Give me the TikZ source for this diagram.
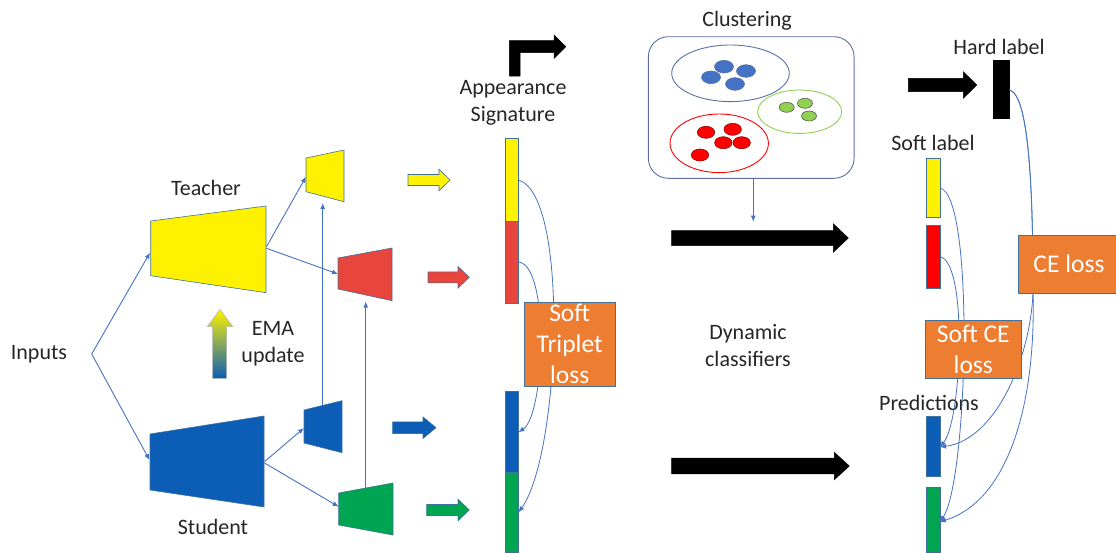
\documentclass[tikz,border=0pt]{standalone}
\usepackage{fontspec}
\setmainfont{Carlito}
\usetikzlibrary{arrows.meta}

\definecolor{tyel}{HTML}{FFF200}
\definecolor{sred}{HTML}{E8453C}
\definecolor{pred}{HTML}{FF0000}
\definecolor{tblu}{HTML}{0B5DB5}
\definecolor{tgrn}{HTML}{00A551}
\definecolor{torg}{HTML}{ED7D31}
\definecolor{link}{HTML}{4472C4}
\definecolor{edge}{HTML}{41719C}
\definecolor{ink}{HTML}{262626}
\definecolor{cgrn}{HTML}{92D050}
\definecolor{cbox}{HTML}{5B6FA6}

% block arrow: style, x start, x tip, y, shaft half width, head half width, head start
\newcommand\blockarr[7]{%
  \draw[#1] (#2,{#4-#5}) -- (#7,{#4-#5}) -- (#7,{#4-#6}) -- (#3,#4)
    -- (#7,{#4+#6}) -- (#7,{#4+#5}) -- (#2,{#4+#5}) -- cycle;}

\tikzset{
  lbl/.style={text=ink, font=\fontsize{22}{27}\selectfont, align=center, inner sep=0pt},
  shp/.style={draw=edge, line width=0.6pt},
  bar/.style={shp, inner sep=0pt, outer sep=0pt},
  lossbox/.style={draw=edge, line width=0.8pt, fill=torg, inner sep=0pt, outer sep=0pt,
    text=white, font=\fontsize{25.5}{31}\selectfont, align=center},
  conn/.style={draw=link, line width=0.9pt, -{Latex[length=6pt,width=5pt]}},
  curve/.style={draw=link, line width=0.8pt, -{Latex[length=6pt,width=5pt]}},
  dot/.style={line width=0.6pt},
}

\begin{document}
\begin{tikzpicture}[x=1pt,y=-1pt]
\useasboundingbox (0,0) rectangle (1116,552);

% ---------- labels ----------
\node[lbl] (inputs) at (39,354) {Inputs};
\node[lbl] (teacherlbl) at (206,188) {Teacher};
\node[lbl] (studentlbl) at (213,527) {Student};
\node[lbl] (ema) at (273,344) {EMA\\update};
\node[lbl] (applbl) at (513,103) {Appearance\\Signature};
\node[lbl] (clulbl) at (747,21) {Clustering};
\node[lbl] (hardlbl) at (999,47) {Hard label};
\node[lbl] (softlbl) at (933,143) {Soft label};
\node[lbl] (predlbl) at (929,403) {Predictions};
\node[lbl] (dynlbl) at (748,346) {Dynamic\\classifiers};

% ---------- encoders and heads ----------
\draw[shp, fill=tyel] (150.7,221) -- (266,206) -- (266,292.7) -- (150.7,275.7) -- cycle;
\draw[shp, fill=tblu] (150,434) -- (264,416) -- (264,507) -- (150,490) -- cycle;
\draw[shp, fill=tyel] (306,158) -- (344,150) -- (344,201.7) -- (306,191.7) -- cycle;
\draw[shp, fill=sred] (338,258) -- (392,248) -- (392,300.7) -- (338,289) -- cycle;
\draw[shp, fill=tblu] (304,410) -- (342,400.7) -- (342,452.7) -- (304,443) -- cycle;
\draw[shp, fill=tgrn] (338.7,493) -- (393,483) -- (393,535) -- (338.7,525) -- cycle;

\coordinate (split) at (91.7,354);
\coordinate (tin) at (150,252.7);
\coordinate (sin) at (149.5,460);
\coordinate (tout1) at (266.5,246.7);
\coordinate (tout2) at (266.5,248.3);
\coordinate (sout1) at (264.5,461.7);
\coordinate (sout2) at (264.5,463);
\coordinate (yin) at (306,176.7);
\coordinate (rin) at (338,274);
\coordinate (bin) at (304,428);
\coordinate (gin) at (338.7,506.7);
\coordinate (btop) at (322.7,405);
\coordinate (ybot) at (322.7,203);
\coordinate (gtop) at (365.7,488);
\coordinate (rbot) at (365.7,301.5);

\draw[conn] (split) -- (tin);
\draw[conn] (split) -- (sin);
\draw[conn] (tout1) -- (yin);
\draw[conn] (tout2) -- (rin);
\draw[conn] (sout1) -- (bin);
\draw[conn] (sout2) -- (gin);
\draw[conn] (btop) -- (ybot);
\draw[conn] (gtop) -- (rbot);

% EMA update arrow
\shade[top color=tyel, bottom color=tblu, draw=gray!60, line width=0.5pt]
  (212.7,378.3) -- (212.7,326.7) -- (207.3,326.7) -- (220,309.3) -- (232.7,326.7)
  -- (226.7,326.7) -- (226.7,378.3) -- cycle;

% ---------- feature arrows ----------
\blockarr{shp, fill=tyel}{408}{450}{180}{5.5}{10.8}{439}
\blockarr{shp, fill=sred}{428}{469.3}{277.3}{5.5}{10.8}{458}
\blockarr{shp, fill=tblu}{392.7}{436}{427.7}{5.8}{10.8}{423}
\blockarr{shp, fill=tgrn}{426.7}{469.3}{510}{5.5}{10.8}{458}

% ---------- appearance signature ----------
\node[bar, fill=tyel, minimum width=13.5pt, minimum height=83.4pt] (sy) at (511.7,180) {};
\node[bar, fill=sred, minimum width=13.5pt, minimum height=81.6pt] (sr) at (511.7,262.5) {};
\node[bar, fill=tblu, minimum width=13.5pt, minimum height=81pt] (sb) at (511.7,432.2) {};
\node[bar, fill=tgrn, minimum width=13.5pt, minimum height=79.3pt] (sg) at (511.7,512.35) {};

% bent arrow above the signature
\draw[fill=black, draw=black, line width=0.5pt]
  (509.3,76) -- (509.3,40.7) -- (554,40.7) -- (554,35) -- (565.7,46.7) -- (554,58.4)
  -- (554,52.7) -- (520,52.7) -- (520,76) -- cycle;

\draw[curve] (sy.east) .. controls (570,195) and (560,455) .. (sg.east);
\draw[curve] ([yshift=0.5pt]sr.east) .. controls (550,265) and (545,415) .. (sb.east);

\node[lossbox, minimum width=91.3pt, minimum height=84pt] (triplet) at (569.7,344) {Soft\\Triplet\\loss};

% ---------- clustering ----------
\node[draw=cbox, line width=0.9pt, rounded corners=20pt, minimum width=205.7pt,
  minimum height=141.6pt, inner sep=0pt] (cluster) at (751.2,107.5) {};
\draw[draw=cbox, line width=0.9pt] (730.5,73.3) ellipse [x radius=58.8pt, y radius=28.3pt];
\draw[draw=cgrn, line width=0.9pt] (799.7,111.7) ellipse [x radius=42pt, y radius=21.7pt];
\draw[draw=pred, line width=0.9pt] (719.2,143.3) ellipse [x radius=49.2pt, y radius=29.3pt];
\foreach \p in {(711,77.3),(724,66.7),(746,71),(735,84)}
  \filldraw[dot, fill=link, draw=cbox] \p ellipse [x radius=9.5pt, y radius=6.3pt];
\foreach \p in {(786.7,107.3),(805,103.3),(809,116)}
  \filldraw[dot, fill=cgrn, draw=gray!70!black] \p ellipse [x radius=7.5pt, y radius=5pt];
\foreach \p in {(706,132.3),(732.7,129.3),(723.3,142.7),(741.7,142.7),(700,155)}
  \filldraw[dot, fill=pred, draw=red!60!black] \p ellipse [x radius=8.7pt, y radius=6pt];

\coordinate (cludown) at (753.3,221.7);
\draw[conn] (cluster.south -| cludown) -- (cludown);

% ---------- classifier arrows ----------
\blockarr{draw=black, line width=0.5pt, fill=black}{671.7}{848.3}{238}{7.5}{14.2}{833.3}
\blockarr{draw=black, line width=0.5pt, fill=black}{671.7}{849.3}{466}{7.8}{13.7}{834.3}
\blockarr{draw=black, line width=0.5pt, fill=black}{908.3}{976.7}{85}{6.7}{13.3}{963.3}

% ---------- labels and predictions ----------
\node[bar, draw=black, fill=black, minimum width=15.7pt, minimum height=58.3pt] (hard) at (1001.2,89.2) {};
\node[bar, fill=tyel, minimum width=13.3pt, minimum height=59.4pt] (softy) at (933.3,188) {};
\node[bar, fill=pred, minimum width=13.3pt, minimum height=63.3pt] (softr) at (933.3,256.7) {};
\node[bar, fill=tblu, minimum width=14pt, minimum height=60pt] (predb) at (933,446) {};
\node[bar, fill=tgrn, minimum width=14pt, minimum height=64.3pt] (predg) at (933,519.85) {};

\draw[curve] (softy.east) .. controls (975,195) and (968,480) .. ([yshift=-2pt]predg.east);
\draw[curve] (softr.east) .. controls (968,262) and (962,420) .. ([yshift=-1pt]predb.east);
\coordinate (hardout) at (1009.5,90);
\coordinate (cemid) at (1033,293);
\draw[curve] (hardout) .. controls (1030,95) and (1033,200) .. (cemid)
  .. controls (1030,360) and (995,440) .. ([yshift=-1pt]predb.east);
\draw[curve] (hardout) .. controls (1030,95) and (1033,200) .. (cemid)
  .. controls (1036,400) and (1010,500) .. ([yshift=-2pt]predg.east);

\node[lossbox, minimum width=99.7pt, minimum height=58.3pt, anchor=west] (ce) at (1018.3,264.2) {};
\node[text=white, font=\fontsize{25.5}{31}\selectfont, inner sep=0pt] (celbl) at (1069,264.2) {CE loss};
\node[lossbox, minimum width=96.7pt, minimum height=57.6pt] (softce) at (973.3,349.5) {Soft CE\\loss};

\end{tikzpicture}
\end{document}
